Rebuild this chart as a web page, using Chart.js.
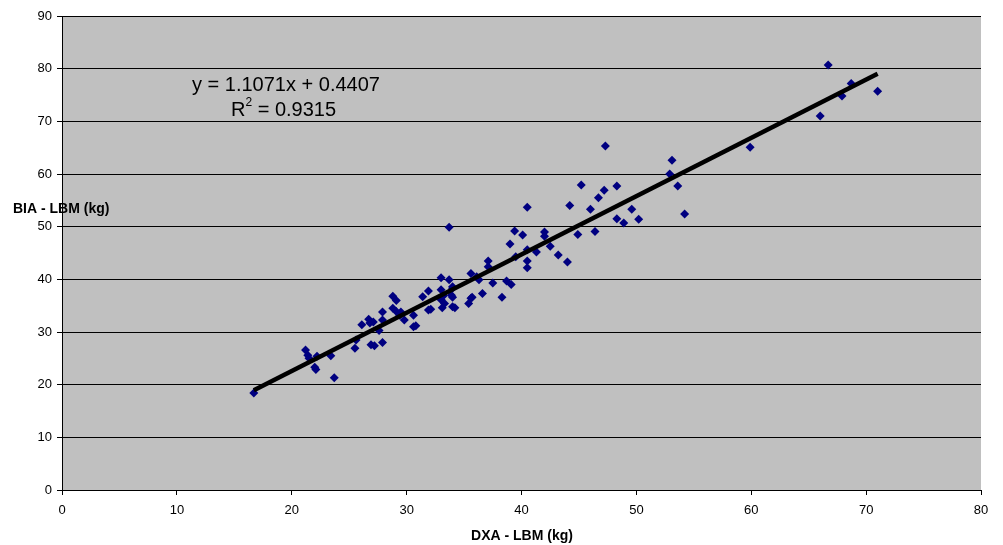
<!DOCTYPE html>
<html>
<head>
<meta charset="utf-8">
<script src="https://cdn.jsdelivr.net/npm/chart.js@4"></script>
<style>
  html, body { margin: 0; padding: 0; background: #ffffff; }
  #wrap { width: 1003px; height: 545px; }
</style>
</head>
<body>
<div id="wrap"><canvas id="lbmChart" width="1003" height="545"></canvas></div>
<script>
// DXA vs BIA lean body mass (kg)
const dxaValues = [
    16.7, 21.2, 21.4, 21.5, 22.2, 22.0, 22.1, 23.4, 23.7, 25.5,
    25.6, 26.1, 26.7, 27.1, 26.9, 27.2, 27.9, 27.6, 27.9, 27.9,
    28.8, 29.1, 28.8, 29.5, 29.4, 29.8, 30.6, 30.6, 30.8, 31.4,
    31.9, 31.9, 32.1, 33.0, 33.0, 33.2, 33.0, 33.3, 33.1, 33.7,
    33.7, 34.0, 33.9, 34.0, 34.0, 34.2, 35.4, 35.7, 35.6, 36.1,
    36.3, 36.6, 37.1, 37.1, 37.5, 38.3, 38.7, 39.1, 39.0, 39.4,
    39.5, 40.1, 40.5, 40.5, 40.5, 40.5, 41.3, 42.0, 42.0, 42.5,
    43.2, 44.0, 44.2, 44.9, 45.2, 46.0, 46.4, 46.7, 47.2, 47.3,
    48.3, 48.3, 48.9, 49.6, 50.2, 52.9, 53.1, 53.6, 54.2, 59.9,
    66.0, 66.7, 67.9, 68.7, 71.0, 34.0, 35.6, 29.1, 26.8
];
const biaValues = [
    18.4, 26.6, 25.6, 25.0, 25.4, 23.3, 22.9, 25.5, 21.3, 26.9,
    28.5, 31.4, 32.4, 31.9, 27.6, 27.4, 28.0, 30.3, 33.8, 32.3,
    36.8, 36.0, 34.5, 33.8, 33.2, 32.3, 33.2, 31.0, 31.2, 36.7,
    37.8, 34.2, 34.3, 40.3, 38.0, 36.9, 36.1, 35.4, 34.6, 39.9,
    49.9, 38.6, 37.0, 36.6, 34.8, 34.6, 35.4, 36.6, 41.1, 40.5,
    39.9, 37.3, 43.5, 42.4, 39.3, 36.6, 39.7, 39.0, 46.7, 49.2,
    44.3, 48.4, 53.7, 45.6, 43.5, 42.2, 45.2, 49.0, 48.2, 46.3,
    44.6, 43.3, 54.0, 48.5, 57.9, 53.3, 49.1, 55.5, 56.9, 65.3,
    57.7, 51.5, 50.7, 53.3, 51.4, 60.0, 62.6, 57.7, 52.4, 65.1,
    71.0, 80.7, 74.8, 77.2, 75.7, 38.3, 36.4, 33.9, 31.7
];

// Linear trendline as printed on the chart
const trendSlope = 1.1071;
const trendIntercept = 0.4407;
const trendRange = [16.7, 71.0];
const equationLines = ['y = 1.1071x + 0.4407', 'R', '2', ' = 0.9315'];

const xTicks = [0, 10, 20, 30, 40, 50, 60, 70, 80];
const yTicks = [0, 10, 20, 30, 40, 50, 60, 70, 80, 90];

const points = dxaValues.map((x, i) => ({ x: x, y: biaValues[i] }));
const trendPoints = trendRange.map(x => ({ x: x, y: trendSlope * x + trendIntercept }));

const FONT = 'Liberation Sans, Arial, sans-serif';

// grey plot area + titles + equation
const decorPlugin = {
    id: 'decor',
    beforeDraw(chart) {
        const { ctx, chartArea } = chart;
        ctx.save();
        ctx.fillStyle = '#c0c0c0';
        ctx.fillRect(chartArea.left, chartArea.top, chartArea.right - chartArea.left, chartArea.bottom - chartArea.top);
        ctx.restore();
    },
    afterDraw(chart) {
        const { ctx } = chart;
        ctx.save();
        ctx.fillStyle = '#000000';
        ctx.textBaseline = 'alphabetic';

        ctx.font = 'bold 14px ' + FONT;
        ctx.textAlign = 'left';
        ctx.fillText('BIA - LBM (kg)', 13, 213);
        ctx.textAlign = 'center';
        ctx.fillText('DXA - LBM (kg)', 522, 540);

        ctx.font = '20px ' + FONT;
        ctx.textAlign = 'left';
        ctx.fillText(equationLines[0], 192, 91);
        ctx.fillText(equationLines[1], 231, 116);
        const rw = ctx.measureText(equationLines[1]).width;
        ctx.font = '12px ' + FONT;
        ctx.fillText(equationLines[2], 231 + rw, 106);
        const sw = ctx.measureText(equationLines[2]).width;
        ctx.font = '20px ' + FONT;
        ctx.fillText(equationLines[3], 231 + rw + sw, 116);
        ctx.restore();
    }
};

const ctx = document.getElementById('lbmChart').getContext('2d');
new Chart(ctx, {
    type: 'scatter',
    data: {
        datasets: [
            {
                label: 'LBM',
                data: points,
                pointStyle: 'rectRot',
                pointRadius: 4.5,
                pointBackgroundColor: '#000080',
                pointBorderColor: '#000080',
                pointBorderWidth: 0,
                order: 2
            },
            {
                label: 'Trend',
                type: 'line',
                data: trendPoints,
                borderColor: '#000000',
                borderWidth: 4.5,
                pointRadius: 0,
                fill: false,
                order: 1
            }
        ]
    },
    options: {
        responsive: false,
        animation: false,
        layout: { padding: { top: 16, right: 22, left: 0, bottom: 0 } },
        plugins: {
            legend: { display: false },
            tooltip: { enabled: false }
        },
        scales: {
            x: {
                type: 'linear',
                min: 0,
                max: 80,
                afterBuildTicks: axis => { axis.ticks = xTicks.map(v => ({ value: v })); },
                afterFit: axis => { axis.height = 55; },
                grid: { drawOnChartArea: false, drawTicks: true, tickLength: 5, color: '#000000' },
                border: { color: '#000000', width: 1 },
                ticks: { color: '#000000', font: { family: FONT, size: 13 }, padding: 8, maxRotation: 0 }
            },
            y: {
                type: 'linear',
                min: 0,
                max: 90,
                afterBuildTicks: axis => { axis.ticks = yTicks.map(v => ({ value: v })); },
                afterFit: axis => { axis.width = 62; },
                grid: { color: '#000000', lineWidth: 1, drawTicks: true, tickLength: 5 },
                border: { color: '#000000', width: 1 },
                ticks: { color: '#000000', font: { family: FONT, size: 13 }, padding: 5 }
            }
        }
    },
    plugins: [decorPlugin]
});
</script>
</body>
</html>
